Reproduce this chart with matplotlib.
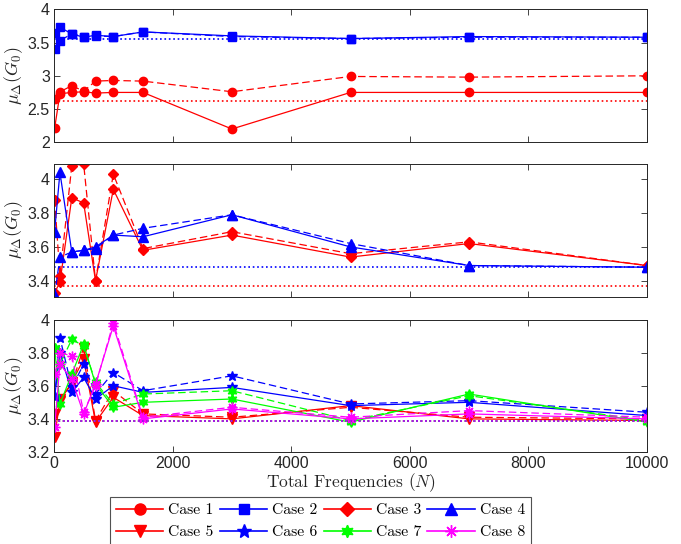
import matplotlib
matplotlib.use("Agg")
import matplotlib.pyplot as plt
from matplotlib.lines import Line2D

plt.rcParams['mathtext.fontset'] = 'cm'
plt.rcParams['font.family'] = ['Liberation Sans', 'DejaVu Sans']

N = [10, 100, 300, 500, 700, 1000, 1500, 3000, 5000, 7000, 10000]

# Panel 1: Cases 1, 2
case1_solid = [2.21, 2.73, 2.75, 2.76, 2.74, 2.75, 2.75, 2.20, 2.75, 2.75, 2.75]
case1_dash = [2.65, 2.76, 2.85, 2.77, 2.92, 2.93, 2.92, 2.76, 2.99, 2.98, 3.00]
case1_ref = 2.62
case2_solid = [3.65, 3.73, 3.63, 3.58, 3.61, 3.59, 3.66, 3.60, 3.56, 3.59, 3.58]
case2_dash = [3.40, 3.53, 3.63, 3.59, 3.60, 3.59, 3.66, 3.59, 3.56, 3.58, 3.58]
case2_ref = 3.56

# Panel 2: Cases 3, 4
case3_solid = [3.33, 3.39, 3.89, 3.86, 3.40, 3.94, 3.58, 3.67, 3.54, 3.62, 3.49]
case3_dash = [3.88, 3.43, 4.08, 4.09, 3.40, 4.03, 3.59, 3.69, 3.56, 3.63, 3.49]
case3_ref = 3.37
case4_solid = [3.69, 4.04, 3.57, 3.58, 3.60, 3.67, 3.66, 3.79, 3.60, 3.49, 3.48]
case4_dash = [3.31, 3.54, 3.57, 3.58, 3.59, 3.67, 3.71, 3.79, 3.62, 3.49, 3.48]
case4_ref = 3.48

# Panel 3: Cases 5-8
case5_solid = [3.29, 3.51, 3.62, 3.76, 3.38, 3.53, 3.42, 3.40, 3.48, 3.40, 3.39]
case5_dash = [3.43, 3.52, 3.61, 3.83, 3.39, 3.57, 3.43, 3.41, 3.47, 3.41, 3.40]
case6_solid = [3.53, 3.80, 3.56, 3.65, 3.52, 3.60, 3.56, 3.59, 3.48, 3.50, 3.42]
case6_dash = [3.53, 3.89, 3.59, 3.73, 3.55, 3.68, 3.57, 3.66, 3.49, 3.51, 3.44]
case7_solid = [3.83, 3.49, 3.67, 3.85, 3.61, 3.47, 3.50, 3.52, 3.38, 3.55, 3.38]
case7_dash = [3.83, 3.73, 3.88, 3.84, 3.62, 3.49, 3.55, 3.57, 3.39, 3.54, 3.39]
case8_solid = [3.35, 3.73, 3.64, 3.43, 3.61, 3.96, 3.40, 3.46, 3.40, 3.43, 3.40]
case8_dash = [3.67, 3.80, 3.78, 3.44, 3.60, 3.98, 3.41, 3.47, 3.41, 3.45, 3.41]
case5to8_ref = 3.385

legend_labels = ['Case 1', 'Case 2', 'Case 3', 'Case 4',
                 'Case 5', 'Case 6', 'Case 7', 'Case 8']

RED = '#ff0000'
BLUE = '#0000ff'
GREEN = '#00ff00'
MAG = '#ff00ff'
AX_COL = '#262626'
HEX = (6, 1, 0)
AST = (8, 2, 0)

fig = plt.figure(figsize=(6.81, 5.44), dpi=100)
L, W = 54 / 681, (647 - 54) / 681
H = 132.5 / 544
ax1 = fig.add_axes([L, 1 - 142.3 / 544, W, 133 / 544])
ax2 = fig.add_axes([L, 1 - 296.5 / 544, W, H])
ax3 = fig.add_axes([L, 1 - 452 / 544, W, H])

ms = 6
lw = 0.9


def plot_case(ax, solid, dash, color, marker, msize=ms):
    ax.plot(N, solid, '-', color=color, marker=marker, ms=msize, lw=lw,
            markeredgecolor=color, markerfacecolor=color)
    ax.plot(N, dash, '--', color=color, marker=marker, ms=msize, lw=lw,
            markeredgecolor=color, markerfacecolor=color, dashes=(6, 3))


def ref(ax, y, color, alpha=1.0):
    ax.plot([0, 10000], [y, y], ':', color=color, lw=1.2, alpha=alpha)


plot_case(ax1, case1_solid, case1_dash, RED, 'o')
plot_case(ax1, case2_solid, case2_dash, BLUE, 's', 5.5)
ref(ax1, case1_ref, RED)
ref(ax1, case2_ref, BLUE)

plot_case(ax2, case3_solid, case3_dash, RED, 'D', 5.5)
plot_case(ax2, case4_solid, case4_dash, BLUE, '^', 6.5)
ref(ax2, case3_ref, RED)
ref(ax2, case4_ref, BLUE)

plot_case(ax3, case5_solid, case5_dash, RED, 'v', 6.5)
plot_case(ax3, case6_solid, case6_dash, BLUE, '*', 7.5)
plot_case(ax3, case7_solid, case7_dash, GREEN, HEX, 7)
plot_case(ax3, case8_solid, case8_dash, MAG, AST, 7)
ref(ax3, case5to8_ref, RED)
ref(ax3, case5to8_ref, GREEN)
ref(ax3, case5to8_ref, BLUE)
ref(ax3, case5to8_ref, MAG, alpha=0.85)

ax1.set_ylim(2, 4)
ax1.set_yticks([2, 2.5, 3, 3.5, 4])
ax1.set_yticklabels(['2', '2.5', '3', '3.5', '4'])
ax2.set_ylim(3.307, 4.09)
ax2.set_yticks([3.4, 3.6, 3.8, 4.0])
ax2.set_yticklabels(['3.4', '3.6', '3.8', '4'])
ax3.set_ylim(3.2, 4)
ax3.set_yticks([3.2, 3.4, 3.6, 3.8, 4.0])
ax3.set_yticklabels(['3.2', '3.4', '3.6', '3.8', '4'])

for ax in (ax1, ax2, ax3):
    ax.set_xlim(0, 10000)
    ax.set_xticks(range(0, 10001, 2000))
    ax.tick_params(direction='in', top=True, right=True, length=4,
                   width=0.6, colors=AX_COL, labelsize=11.5, pad=3)
    for s in ax.spines.values():
        s.set_color(AX_COL)
        s.set_linewidth(0.7)
    ax.set_ylabel(r'$\mu_\Delta(G_0)$', fontsize=13, color=AX_COL, labelpad=2)
    for t in ax.get_yticklabels() + ax.get_xticklabels():
        t.set_color(AX_COL)

ax1.tick_params(labelbottom=False)
ax2.tick_params(labelbottom=False)
ax3.set_xticklabels(['0', '2000', '4000', '6000', '8000', '10000'])
ax3.set_xlabel(r'Total Frequencies $(N)$', fontsize=12.5, family='cmr10',
               color=AX_COL, labelpad=0)

# Legend (row-wise order)
specs = [(RED, 'o', 8), (BLUE, 's', 7.5), (RED, 'D', 7.5), (BLUE, '^', 8.5),
         (RED, 'v', 8.5), (BLUE, '*', 10), (GREEN, HEX, 9), (MAG, AST, 9)]
handles = [Line2D([], [], color=c, marker=m, ms=s, lw=1.2,
                  markerfacecolor=c, markeredgecolor=c) for c, m, s in specs]
order = [0, 4, 1, 5, 2, 6, 3, 7]
leg = fig.legend([handles[i] for i in order], [legend_labels[i] for i in order],
                 ncol=4, loc='upper left', bbox_to_anchor=(110 / 681, 1 - 497 / 544),
                 prop={'family': 'cmr10', 'size': 11.3}, frameon=True,
                 fancybox=False, edgecolor=AX_COL, handlelength=3.0,
                 handletextpad=0.32, columnspacing=0.4, borderpad=0.4,
                 labelspacing=0.5, borderaxespad=0)
leg.get_frame().set_linewidth(0.8)

fig.savefig('out.png', dpi=100)
